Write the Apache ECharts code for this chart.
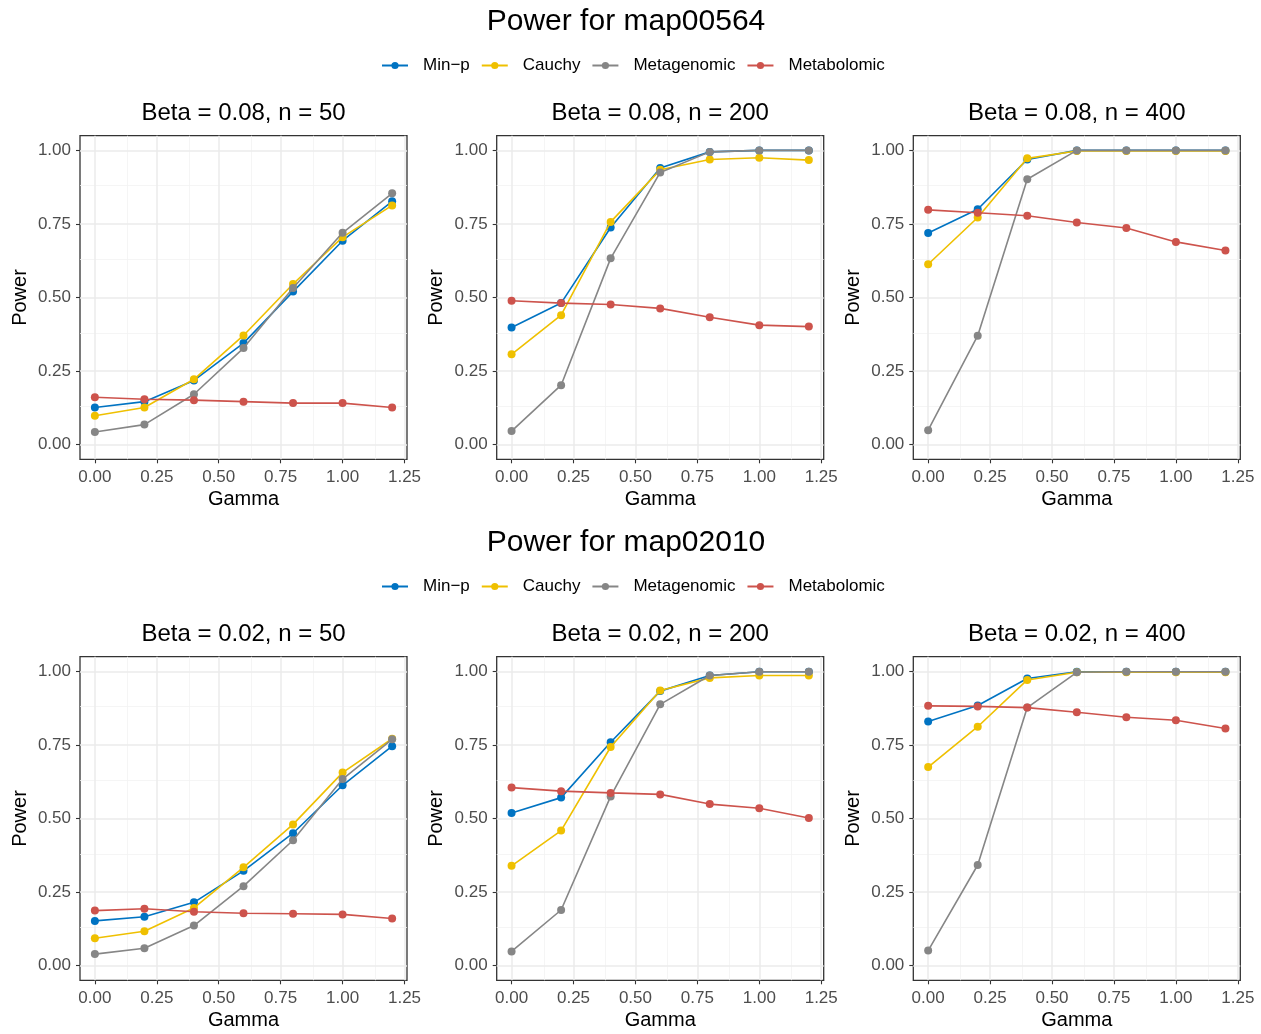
<!DOCTYPE html>
<html><head><meta charset="utf-8">
<script src="https://cdn.jsdelivr.net/npm/echarts@6/dist/echarts.min.js"></script>
<style>html,body{margin:0;padding:0;background:#fff}#c{width:1261px;height:1034px}</style>
</head><body><div id="c"></div>
<script>
const gamma = [0, 0.2, 0.4, 0.6, 0.8, 1.0, 1.2];
const methods = ['Min\u2212p', 'Cauchy', 'Metagenomic', 'Metabolomic'];
const sectionTitles = ['Power for map00564', 'Power for map02010'];
const panelTitles = ['Beta = 0.08, n = 50', 'Beta = 0.08, n = 200', 'Beta = 0.08, n = 400',
                     'Beta = 0.02, n = 50', 'Beta = 0.02, n = 200', 'Beta = 0.02, n = 400'];
const xTicks = [0, 0.25, 0.5, 0.75, 1, 1.25];
const xMinor = [0.125, 0.375, 0.625, 0.875, 1.125];
const yTicks = [0, 0.25, 0.5, 0.75, 1];
const yMinor = [0.125, 0.375, 0.625, 0.875];

// rows: Min-p, Cauchy, Metagenomic, Metabolomic
const power_564_n50 = [
  [0.126, 0.146, 0.218, 0.345, 0.520, 0.693, 0.827],
  [0.098, 0.126, 0.222, 0.371, 0.546, 0.705, 0.813],
  [0.043, 0.068, 0.171, 0.328, 0.532, 0.720, 0.854],
  [0.161, 0.154, 0.151, 0.146, 0.141, 0.141, 0.126]
];
const power_564_n200 = [
  [0.398, 0.481, 0.738, 0.940, 0.995, 1.000, 1.000],
  [0.307, 0.440, 0.757, 0.934, 0.969, 0.975, 0.967],
  [0.046, 0.202, 0.633, 0.925, 0.995, 1.000, 1.000],
  [0.489, 0.481, 0.476, 0.463, 0.433, 0.406, 0.401]
];
const power_564_n400 = [
  [0.719, 0.800, 0.969, 1.000, 1.000, 1.000, 1.000],
  [0.613, 0.772, 0.973, 0.998, 0.998, 0.998, 0.998],
  [0.049, 0.370, 0.902, 1.000, 1.000, 1.000, 1.000],
  [0.798, 0.788, 0.778, 0.755, 0.736, 0.689, 0.660]
];
const power_2010_n50 = [
  [0.152, 0.166, 0.215, 0.322, 0.450, 0.613, 0.746],
  [0.093, 0.117, 0.196, 0.334, 0.480, 0.656, 0.771],
  [0.039, 0.059, 0.136, 0.270, 0.426, 0.634, 0.769],
  [0.187, 0.193, 0.183, 0.178, 0.176, 0.174, 0.160]
];
const power_2010_n200 = [
  [0.519, 0.571, 0.759, 0.933, 0.986, 0.999, 0.999],
  [0.339, 0.459, 0.743, 0.935, 0.978, 0.986, 0.986],
  [0.048, 0.189, 0.575, 0.888, 0.986, 0.999, 0.999],
  [0.605, 0.593, 0.587, 0.582, 0.549, 0.535, 0.502]
];
const power_2010_n400 = [
  [0.830, 0.884, 0.976, 0.999, 0.999, 0.999, 0.999],
  [0.675, 0.812, 0.971, 0.997, 0.997, 0.997, 0.997],
  [0.051, 0.342, 0.877, 0.997, 0.999, 0.999, 0.999],
  [0.883, 0.881, 0.877, 0.861, 0.844, 0.834, 0.806]
];
const panels = [power_564_n50, power_564_n200, power_564_n400,
                power_2010_n50, power_2010_n200, power_2010_n400];

// ---- styling / layout ----
const FONT = '"Liberation Sans", Arial, Helvetica, sans-serif';
const colors = ['#0073C2', '#EFC000', '#868686', '#CD534C'];
const colLeft = [80, 496.7, 913.3];
const rowTop = [135.7, 656.7];
const gw = 327, gh = 323.6;
const panelTitleY = [113, 634];
const sectionTitleY = [22, 543];
const legendTop = [52, 573];

const grids = [], xAxes = [], yAxes = [], series = [], graphics = [];
panels.forEach((pdata, p) => {
  const r = Math.floor(p / 3), c = p % 3;
  grids.push({left: colLeft[c], top: rowTop[r], width: gw, height: gh,
    show: true, borderColor: '#333333', borderWidth: 1.3, backgroundColor: '#fff', containLabel: false});
  xAxes.push({type: 'value', gridIndex: p, min: -0.06, max: 1.26,
    axisLine: {show: false, onZero: false},
    axisTick: {show: true, customValues: xTicks, length: 4, lineStyle: {color: '#333333', width: 1.1}},
    axisLabel: {customValues: xTicks, formatter: v => v.toFixed(2), fontSize: 17, color: '#4d4d4d', margin: 10, fontFamily: FONT},
    splitLine: {show: false},
    name: 'Gamma', nameLocation: 'middle', nameGap: 30,
    nameTextStyle: {fontSize: 20, color: '#000', fontFamily: FONT}});
  yAxes.push({type: 'value', gridIndex: p, min: -0.05, max: 1.05,
    axisLine: {show: false, onZero: false},
    axisTick: {show: true, customValues: yTicks, length: 4, lineStyle: {color: '#333333', width: 1.1}},
    axisLabel: {customValues: yTicks, formatter: v => v.toFixed(2), fontSize: 17, color: '#4d4d4d', margin: 9, fontFamily: FONT},
    splitLine: {show: false},
    name: 'Power', nameLocation: 'middle', nameGap: 50, nameRotate: 90,
    nameTextStyle: {fontSize: 20, color: '#000', fontFamily: FONT}});
  // grid lines through the axes' own scales
  const major = {color: '#ebebeb', width: 1.5, type: 'solid'};
  const minor = {color: '#f2f2f2', width: 0.8, type: 'solid'};
  series.push({type: 'line', xAxisIndex: p, yAxisIndex: p, data: [], silent: true, z: 1,
    markLine: {silent: true, symbol: ['none', 'none'], label: {show: false}, animation: false, z: 1,
      emphasis: {disabled: true},
      data: [
        ...xMinor.map(v => ({xAxis: v, lineStyle: minor})),
        ...yMinor.map(v => ({yAxis: v, lineStyle: minor})),
        ...xTicks.map(v => ({xAxis: v, lineStyle: major})),
        ...yTicks.map(v => ({yAxis: v, lineStyle: major}))
      ]}});
  pdata.forEach((vals, m) => {
    series.push({type: 'line', name: methods[m], xAxisIndex: p, yAxisIndex: p, z: 3 + m,
      data: gamma.map((g, i) => [g, vals[i]]),
      symbol: 'circle', symbolSize: 8, showSymbol: true,
      lineStyle: {width: 1.6, color: colors[m]}, itemStyle: {color: colors[m]},
      emphasis: {disabled: true}});
  });
  graphics.push({type: 'text', x: colLeft[c] + gw / 2, y: panelTitleY[r],
    style: {text: panelTitles[p], fontSize: 24, fontFamily: FONT, fill: '#000', align: 'center', verticalAlign: 'middle'}});
});
sectionTitles.forEach((t, r) => {
  graphics.push({type: 'text', x: 626, y: sectionTitleY[r],
    style: {text: t, fontSize: 30, fontFamily: FONT, fill: '#000', align: 'center', verticalAlign: 'middle'}});
});
const legends = legendTop.map(t => ({
  data: methods, top: t, left: 376, orient: 'horizontal',
  itemWidth: 26, itemHeight: 9, itemGap: 11, selectedMode: false,
  textStyle: {fontSize: 17, color: '#000', fontFamily: FONT, padding: [0, 0, 0, 10]}
}));

const chart = echarts.init(document.getElementById('c'), null, {renderer: 'canvas'});
chart.setOption({
  animation: false, backgroundColor: '#fff', color: colors,
  grid: grids, xAxis: xAxes, yAxis: yAxes, series: series,
  legend: legends, graphic: graphics
});
</script></body></html>
